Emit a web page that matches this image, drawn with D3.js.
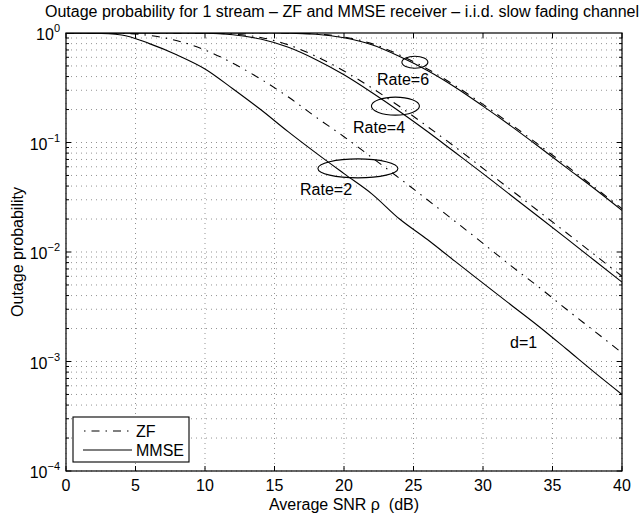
<!DOCTYPE html>
<html>
<head>
<meta charset="utf-8">
<script src="https://cdn.jsdelivr.net/npm/d3@7"></script>
<style>
  body { margin: 0; background: #fff; }
  svg text { font-family: "Liberation Sans", Arial, Helvetica, sans-serif; fill: #000; }
</style>
</head>
<body>
<div id="chart"></div>
<script>
// set the dimensions and margins of the graph
let width = 642,
    height = 519,
    margin = {top: 33, right: 20, bottom: 48, left: 66}

// data (SNR in dB, outage probability)
var snr   = [0, 2, 4, 6, 8, 10, 12, 14, 16, 18, 20, 22, 24, 26, 28, 30, 32, 34, 36, 38, 40]
var zf2   = [1, 0.998, 0.99, 0.95, 0.85, 0.70, 0.53, 0.38, 0.26, 0.17, 0.113, 0.073, 0.047, 0.030, 0.019, 0.012, 0.0075, 0.0048, 0.003, 0.0019, 0.0012]
var mmse2 = [1, 0.995, 0.96, 0.80, 0.63, 0.47, 0.31, 0.20, 0.125, 0.08, 0.052, 0.034, 0.020, 0.013, 0.0082, 0.0052, 0.0033, 0.0021, 0.0013, 0.0008, 0.0005]
var zf4   = [1, 1, 1, 1, 0.9999, 0.997, 0.977, 0.91, 0.78, 0.61, 0.45, 0.315, 0.213, 0.14, 0.091, 0.058, 0.037, 0.0236, 0.015, 0.0095, 0.006]
var mmse4 = [1, 1, 1, 1, 0.9998, 0.995, 0.965, 0.88, 0.74, 0.57, 0.415, 0.286, 0.192, 0.126, 0.081, 0.052, 0.033, 0.021, 0.0133, 0.0084, 0.0053]
var zf6   = [1, 1, 1, 1, 1, 1, 1, 1, 0.998, 0.98, 0.92, 0.80, 0.63, 0.47, 0.33, 0.223, 0.147, 0.0955, 0.0614, 0.0392, 0.0249]
var mmse6 = [1, 1, 1, 1, 1, 1, 1, 1, 0.997, 0.975, 0.905, 0.78, 0.61, 0.455, 0.32, 0.215, 0.142, 0.092, 0.059, 0.038, 0.024]

var xTicks = [0, 5, 10, 15, 20, 25, 30, 35, 40]
var yExps  = [0, -1, -2, -3, -4]

// annotations: ellipse centre (data coords) and label
var rateLabels = [
  {text: "Rate=2", snr: 21.0, p: 0.058, rx: 40, ry: 9.5, lx: 300, ly: 195},
  {text: "Rate=4", snr: 23.7, p: 0.215, rx: 24, ry: 9,   lx: 353, ly: 133},
  {text: "Rate=6", snr: 25.1, p: 0.54,  rx: 13, ry: 6,   lx: 377, ly: 85}
]

var fs = "16px"

var svg = d3.select("#chart")
  .append("svg")
    .attr("width", width)
    .attr("height", height)

var x = d3.scaleLinear().domain([0, 40]).range([margin.left, width - margin.right])
var y = d3.scaleLog().domain([1e-4, 1]).range([height - margin.bottom, margin.top])

var x0 = x(0), x1 = x(40), y0 = y(1), y1 = y(1e-4)

// grid (dotted, MATLAB style)
var minorY = []
yExps.forEach(function(e) {
  if (e > -4) for (var k = 1; k <= 9; k++) minorY.push(k * Math.pow(10, e - 1))
})

var grid = svg.append("g").attr("stroke", "#000").attr("stroke-width", 0.7)
  .attr("stroke-dasharray", "1,4").attr("opacity", 0.6)
grid.selectAll(".hg").data(minorY).enter().append("line")
  .attr("x1", x0).attr("x2", x1)
  .attr("y1", function(d) { return y(d) }).attr("y2", function(d) { return y(d) })
grid.selectAll(".vg").data(xTicks).enter().append("line")
  .attr("y1", y0).attr("y2", y1)
  .attr("x1", function(d) { return x(d) }).attr("x2", function(d) { return x(d) })

// curves
var line = d3.line()
  .x(function(d) { return x(d[0]) })
  .y(function(d) { return y(d[1]) })
  .curve(d3.curveMonotoneX)

var dashDot = "8,6,1.5,6"
var series = [
  {v: zf2, dash: dashDot}, {v: mmse2, dash: null},
  {v: zf4, dash: dashDot}, {v: mmse4, dash: null},
  {v: zf6, dash: dashDot}, {v: mmse6, dash: null}
]

svg.append("defs").append("clipPath").attr("id", "clip")
  .append("rect").attr("x", x0).attr("y", y0).attr("width", x1 - x0).attr("height", y1 - y0)

svg.append("g").attr("clip-path", "url(#clip)")
  .selectAll("path").data(series).enter().append("path")
    .attr("d", function(s) { return line(snr.map(function(t, i) { return [t, s.v[i]] })) })
    .attr("fill", "none")
    .attr("stroke", "#000")
    .attr("stroke-width", 1.1)
    .attr("stroke-dasharray", function(s) { return s.dash })

// ellipses and labels
rateLabels.forEach(function(r) {
  svg.append("ellipse")
    .attr("cx", x(r.snr)).attr("cy", y(r.p))
    .attr("rx", r.rx).attr("ry", r.ry)
    .attr("fill", "none").attr("stroke", "#000").attr("stroke-width", 1.1)
  svg.append("text").attr("x", r.lx).attr("y", r.ly)
    .style("font-size", fs).text(r.text)
})
svg.append("text").attr("x", 510).attr("y", 348).style("font-size", fs).text("d=1")

// box and ticks (inward, all four sides)
svg.append("rect").attr("x", x0).attr("y", y0).attr("width", x1 - x0).attr("height", y1 - y0)
  .attr("fill", "none").attr("stroke", "#000").attr("stroke-width", 1.2)

var ticks = svg.append("g").attr("stroke", "#000").attr("stroke-width", 1)
xTicks.forEach(function(t) {
  ticks.append("line").attr("x1", x(t)).attr("x2", x(t)).attr("y1", y1).attr("y2", y1 - 5)
  ticks.append("line").attr("x1", x(t)).attr("x2", x(t)).attr("y1", y0).attr("y2", y0 + 5)
})
minorY.forEach(function(v) {
  var major = Math.abs(Math.log10(v) - Math.round(Math.log10(v))) < 1e-9
  var len = major ? 5 : 3
  ticks.append("line").attr("x1", x0).attr("x2", x0 + len).attr("y1", y(v)).attr("y2", y(v))
  ticks.append("line").attr("x1", x1).attr("x2", x1 - len).attr("y1", y(v)).attr("y2", y(v))
})

// tick labels
svg.selectAll(".xl").data(xTicks).enter().append("text")
  .attr("x", function(d) { return x(d) }).attr("y", y1 + 20)
  .attr("text-anchor", "middle").style("font-size", fs)
  .text(function(d) { return d })

yExps.forEach(function(e) {
  var t = svg.append("text").attr("x", x0 - 6).attr("y", y(Math.pow(10, e)) + 7)
    .attr("text-anchor", "end").style("font-size", fs)
  t.append("tspan").text("10")
  t.append("tspan").attr("dy", -8).style("font-size", "11px").text(e === 0 ? "0" : "\u2212" + (-e))
})

// axis titles
svg.append("text").attr("x", (x0 + x1) / 2).attr("y", 510).attr("text-anchor", "middle")
  .style("font-size", fs).text("Average SNR \u03c1 \u00a0(dB)")
svg.append("text").attr("transform", "translate(23," + ((y0 + y1) / 2) + ") rotate(-90)")
  .attr("text-anchor", "middle").style("font-size", fs).text("Outage probability")
svg.append("text").attr("x", 342).attr("y", 17).attr("text-anchor", "middle")
  .style("font-size", fs)
  .text("Outage probability for 1 stream \u2013 ZF and MMSE receiver \u2013 i.i.d. slow fading channel")

// legend
var lg = svg.append("g")
lg.append("rect").attr("x", 73).attr("y", 417).attr("width", 116).attr("height", 45)
  .attr("fill", "#fff").attr("stroke", "#000").attr("stroke-width", 1.1)
var legendItems = [{name: "ZF", dash: dashDot, yy: 431}, {name: "MMSE", dash: null, yy: 450}]
legendItems.forEach(function(d) {
  lg.append("line").attr("x1", 83).attr("x2", 132).attr("y1", d.yy).attr("y2", d.yy)
    .attr("stroke", "#000").attr("stroke-width", 1.1)
    .attr("stroke-dasharray", d.dash).attr("stroke-dashoffset", d.dash ? 13 : 0)
  lg.append("text").attr("x", 136).attr("y", d.yy + 6).style("font-size", fs).text(d.name)
})
</script>
</body>
</html>
